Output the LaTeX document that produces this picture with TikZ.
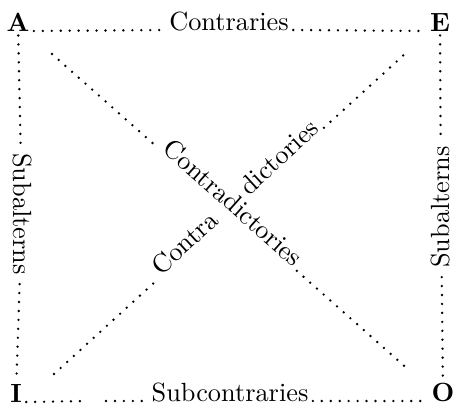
\documentclass[tikz,border=0pt]{standalone}
\usepackage{amsmath,amssymb}
\usepackage{tikz}
\usetikzlibrary{calc}

\begin{document}
\begin{tikzpicture}[x=0.38pt, y=-0.38pt]
\tikzstyle{corner}=[font=\bfseries, inner sep=1.5pt, anchor=base]
\tikzstyle{label_h}=[inner sep=1.5pt, anchor=base]
\tikzstyle{label_d}=[inner sep=1.5pt, anchor=base, sloped]
\tikzstyle{dots}=[line width=1pt, line cap=round, dash pattern=on 0pt off 3.4pt]

\useasboundingbox (0,0) rectangle (453,412);

\path (18, 31) node[corner](A) {A}
      (440, 31) node[corner](E) {E}
      (16, 402) node[corner](I) {I}
      (443, 401) node[corner](O) {O}
      (229, 30) node[label_h](Con) {Contraries}
      (230, 401) node[label_h](Sub) {Subcontraries}
      (22, 214) node[rotate=-90](SubL) {Subalterns}
      (441, 207) node[rotate=90](SubR) {Subalterns};

% ends of the diagonals and the gap in the bottom row
\coordinate (a1) at (52,54);
\coordinate (o1) at (410,371);
\coordinate (i1) at (54,374);
\coordinate (e1) at (407,52);
\coordinate (g1) at (87,401);
\coordinate (g2) at (106,401);

\path (a1) -- (o1) node[label_d, pos=0.49](CD) {Contradictories};
\path (i1) -- (e1) node[label_d, pos=0.387](Co) {Contra}
                   node[label_d, pos=0.654](Di) {dictories};

\draw[dots] (A.base east) -- (Con.base west);
\draw[dots] (Con.base east) -- (E.base west);
\draw[dots] (I.base east) -- (g1);
\draw[dots] (g2) -- (Sub.base west);
\draw[dots] (Sub.base east) -- (O.base west);
\draw[dots] (A) -- (SubL);
\draw[dots] (SubL) -- (I);
\draw[dots] (E) -- (SubR);
\draw[dots] (SubR) -- (O);
\draw[dots] (a1) -- (CD.base west);
\draw[dots] (CD.base east) -- (o1);
\draw[dots] (i1) -- (Co.base west);
\draw[dots] (Di.base east) -- (e1);

\end{tikzpicture}
\end{document}
